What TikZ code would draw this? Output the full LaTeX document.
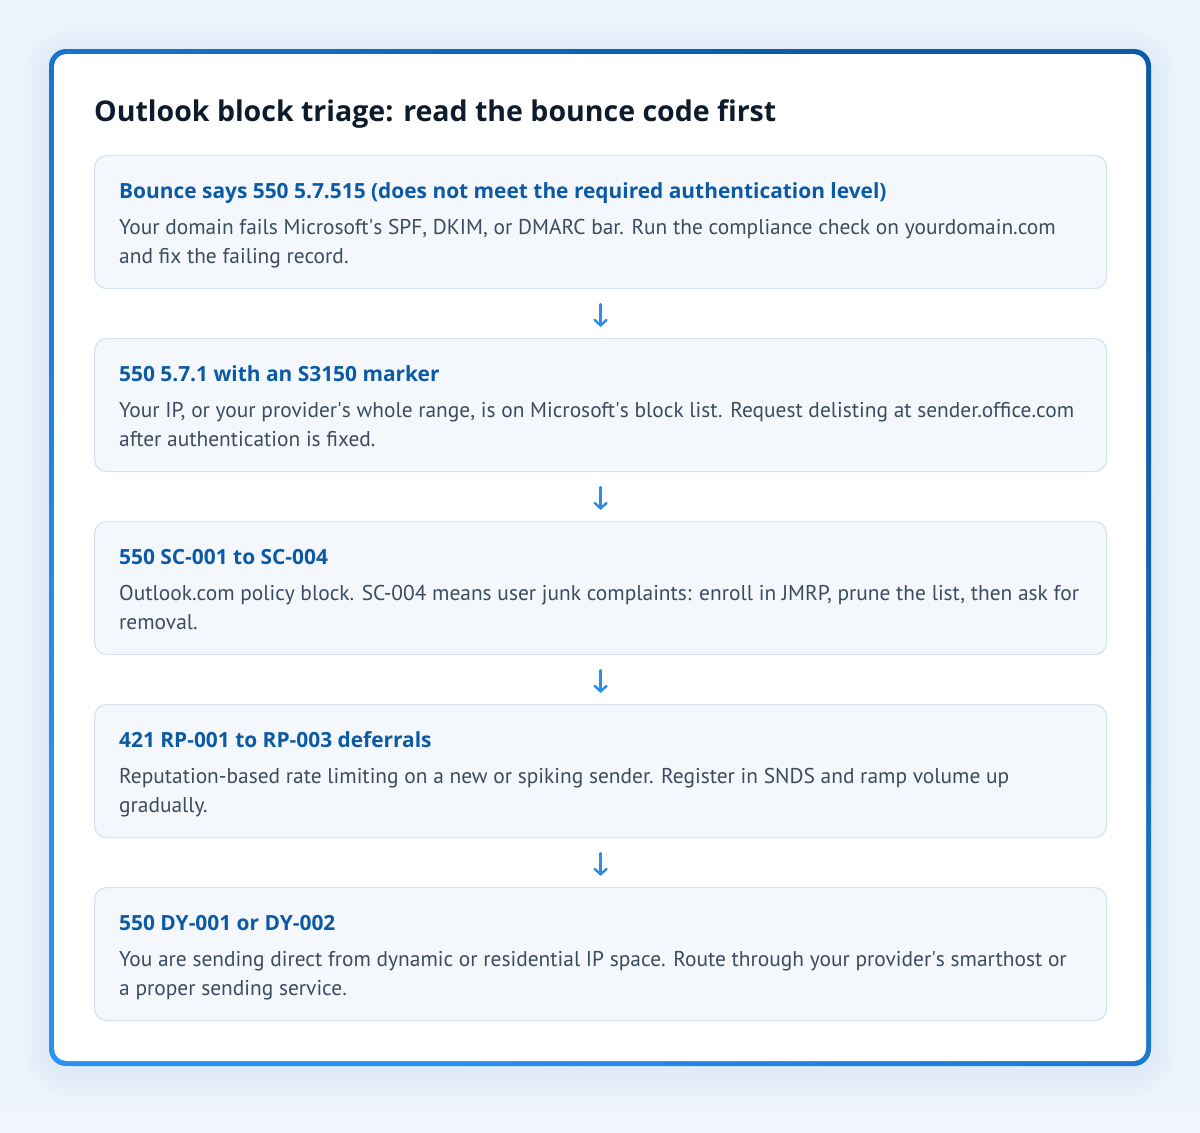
\documentclass[tikz,border=0pt]{standalone}
\usepackage{fontspec}
\setmainfont{PT Sans}
\newfontfamily\headfont{Open Sans}
\usetikzlibrary{arrows.meta}
\newcommand{\ap}{\textquotesingle}
\definecolor{bgc}{HTML}{EEF5FC}
\definecolor{bandc}{HTML}{F1F6FC}
\definecolor{glowc}{HTML}{A8CDF4}
\definecolor{framedark}{HTML}{0B5AAB}
\definecolor{framebright}{HTML}{2B92F2}
\definecolor{cardfill}{HTML}{F4F8FD}
\definecolor{cardline}{HTML}{D3E3F3}
\definecolor{headc}{HTML}{0B5AA6}
\definecolor{bodyc}{HTML}{3C4B5D}
\definecolor{titlec}{HTML}{0E1B2C}
\definecolor{arrowc}{HTML}{2A8DEC}
\tikzset{
  card/.style={draw=cardline, line width=1.2pt, fill=cardfill, rounded corners=12pt,
    minimum width=1012pt, minimum height=133pt, anchor=north west, inner sep=0pt},
  cardhead/.style={anchor=base west, inner sep=0pt, text=headc, font=\headfont\fontsize{20.9}{26}\selectfont\bfseries},
  cardbody/.style={anchor=base west, inner sep=0pt, text=bodyc, align=left,
    font=\fontsize{21.4}{29}\selectfont},
  flow/.style={draw=arrowc, line width=2.4pt, line cap=round,
    -{Straight Barb[length=5.5pt,width=12pt,line width=2.4pt, line cap=round]},
    shorten <=15pt, shorten >=11pt}
}
\begin{document}
\begin{tikzpicture}[x=1pt,y=-1pt]
\useasboundingbox (0,0) rectangle (1200,1133);
\fill[bgc] (0,0) rectangle (1200,1133);
\fill[bandc] (0,1113) rectangle (1200,1133);
% glow around frame
\foreach \s/\o in {30/0.03,24/0.035,18/0.04,12/0.045,6/0.05}{
  \fill[glowc, opacity=\o, rounded corners=20pt+\s pt]
    (49-\s,49-\s+6) rectangle (1151+\s,1066+\s+6);
}
% frame
\shade[left color=framedark, right color=framebright, shading angle=-40, rounded corners=17pt]
  (49,49) rectangle (1151,1066);
\fill[white, rounded corners=12.5pt] (54,54) rectangle (1146,1061);
\node[anchor=base west, inner sep=0pt, text=titlec, font=\headfont\fontsize{28.5}{36}\selectfont\bfseries]
  (title) at (94,121) {Outlook block triage: read the bounce code first};
% cards
\node[card] (c1) at (94,155) {};
\node[card] (c2) at (94,338) {};
\node[card] (c3) at (94,521) {};
\node[card] (c4) at (94,704) {};
\node[card] (c5) at (94,887) {};
\node[cardhead] (h1) at (119,198) {Bounce says 550 5.7.515 (does not meet the required authentication level)};
\node[cardbody] (b1) at (119,263) {Your domain fails Microsoft\ap s SPF, DKIM, or DMARC bar. Run the compliance check on yourdomain.com\\and fix the failing record.};
\node[cardhead] (h2) at (119,381) {550 5.7.1 with an S3150 marker};
\node[cardbody] (b2) at (119,446) {Your IP, or your provider\ap s whole range, is on Microsoft\ap s block list. Request delisting at sender.office.com\\after authentication is fixed.};
\node[cardhead] (h3) at (119,564) {550 SC-001 to SC-004};
\node[cardbody] (b3) at (119,629) {Outlook.com policy block. SC-004 means user junk complaints: enroll in JMRP, prune the list, then ask for\\removal.};
\node[cardhead] (h4) at (119,747) {421 RP-001 to RP-003 deferrals};
\node[cardbody] (b4) at (119,812) {Reputation-based rate limiting on a new or spiking sender. Register in SNDS and ramp volume up\\gradually.};
\node[cardhead] (h5) at (119,930) {550 DY-001 or DY-002};
\node[cardbody] (b5) at (119,995) {You are sending direct from dynamic or residential IP space. Route through your provider\ap s smarthost or\\a proper sending service.};
% connectors
\draw[flow] (c1.south) -- (c2.north);
\draw[flow] (c2.south) -- (c3.north);
\draw[flow] (c3.south) -- (c4.north);
\draw[flow] (c4.south) -- (c5.north);
\end{tikzpicture}
\end{document}
